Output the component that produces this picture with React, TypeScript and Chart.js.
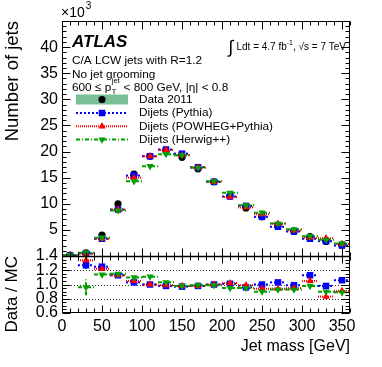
import React, { useEffect, useRef } from 'react';
import { Chart, registerables } from 'chart.js';

Chart.register(...registerables);

const FONT = "'Liberation Sans', Arial, Helvetica, sans-serif";

// Jet mass bin centres [GeV], 20 GeV wide bins
const binCenters = [10, 30, 50, 70, 90, 110, 130, 150, 170, 190, 210, 230, 250, 270, 290, 310, 330, 350];
const binHalfWidth = 10;

// Number of jets (x10^3)
const data2011 = [0.15, 0.6, 4.0, 10.0, 15.7, 19.1, 20.1, 18.9, 16.7, 14.2, 11.5, 9.2, 7.5, 5.8, 4.7, 3.7, 2.8, 2.1];
const pythia = [0.12, 0.47, 3.3, 8.9, 15.4, 19.1, 20.4, 19.6, 17.0, 14.2, 11.4, 9.6, 7.5, 5.6, 4.7, 3.3, 2.85, 2.0];
const powheg = [0.11, 0.45, 3.3, 8.9, 15.0, 19.1, 20.3, 19.3, 17.0, 14.2, 11.3, 9.3, 8.0, 6.2, 4.9, 3.5, 3.4, 2.3];
const herwig = [0.16, 0.63, 3.5, 8.7, 14.3, 17.2, 19.5, 19.3, 16.9, 14.3, 12.1, 9.7, 8.3, 6.2, 5.1, 3.8, 3.1, 2.4];

// Data / MC ratios (first bin is off scale)
const ratioPythia = [null, 1.27, 1.25, 1.13, 1.03, 1.0, 0.98, 0.97, 0.98, 1.0, 1.01, 0.96, 1.0, 1.03, 0.99, 1.13, 0.98, 1.06];
const ratioPowheg = [null, 1.34, 1.22, 1.13, 1.05, 1.0, 0.99, 0.98, 0.98, 1.0, 1.02, 0.99, 0.94, 0.94, 0.95, 1.05, 0.83, 0.91];
const ratioHerwig = [null, 0.96, 1.14, 1.15, 1.1, 1.11, 1.03, 0.98, 0.99, 0.99, 0.95, 0.95, 0.9, 0.93, 0.93, 0.98, 0.9, 0.89];
const errPythia = [0, 0.05, 0.02, 0.01, 0.01, 0.01, 0.01, 0.01, 0.01, 0.01, 0.01, 0.01, 0.015, 0.015, 0.02, 0.03, 0.03, 0.035];
const errPowheg = [0, 0.06, 0.02, 0.01, 0.01, 0.01, 0.01, 0.01, 0.01, 0.01, 0.01, 0.01, 0.015, 0.015, 0.02, 0.03, 0.03, 0.035];
const errHerwig = [0, 0.11, 0.04, 0.02, 0.015, 0.01, 0.01, 0.01, 0.01, 0.01, 0.01, 0.015, 0.02, 0.02, 0.025, 0.035, 0.04, 0.045];

// Axis tick values
const xMin = 0, xMax = 360, xStep = 50;
const yMin = 0, yMax = 45, yStep = 5;
const rMin = 0.6, rMax = 1.4, rStep = 0.2;
const ratioGridLines = [0.8, 1.0, 1.2];

const BLUE = '#0000ff';
const RED = '#ff0000';
const GREEN = '#00a000';
const BAND = 'rgb(122,190,150)';

const series = [
  { label: 'Dijets (Pythia)', color: BLUE, dash: [2, 2], style: 'rect', radius: 4.6, rot: 0, values: pythia, ratio: ratioPythia, err: errPythia },
  { label: 'Dijets (POWHEG+Pythia)', color: RED, dash: [1, 1], style: 'triangle', radius: 4.2, rot: 0, values: powheg, ratio: ratioPowheg, err: errPowheg },
  { label: 'Dijets (Herwig++)', color: GREEN, dash: [4, 2, 1, 2], style: 'triangle', radius: 4.2, rot: 180, values: herwig, ratio: ratioHerwig, err: errHerwig },
];

function points(values: (number | null)[], errs?: number[]) {
  const out: any[] = [];
  binCenters.forEach((x, i) => {
    const v = values[i];
    if (v !== null && v !== undefined) out.push({ x, y: v, e: errs ? errs[i] : 0 });
  });
  return out;
}

function drawMarker(ctx: CanvasRenderingContext2D, style: string, x: number, y: number, r: number, rot: number, color: string) {
  ctx.save();
  ctx.fillStyle = color;
  ctx.beginPath();
  if (style === 'circle') {
    ctx.arc(x, y, r, 0, Math.PI * 2);
  } else if (style === 'rect') {
    const s = r * Math.SQRT1_2;
    ctx.rect(x - s, y - s, 2 * s, 2 * s);
  } else {
    const sgn = rot === 180 ? -1 : 1;
    ctx.moveTo(x, y - sgn * r);
    ctx.lineTo(x + r * 0.866, y + sgn * r * 0.5);
    ctx.lineTo(x - r * 0.866, y + sgn * r * 0.5);
    ctx.closePath();
  }
  ctx.fill();
  ctx.restore();
}

const errorBarPlugin = {
  id: 'errorBars',
  beforeDatasetsDraw(chart: any) {
    const ctx = chart.ctx as CanvasRenderingContext2D;
    const a = chart.chartArea;
    const xs = chart.scales.x;
    const yr = chart.scales.yr;
    ctx.save();
    ctx.strokeStyle = '#333';
    ctx.lineWidth = 1;
    ctx.setLineDash([1, 2]);
    ratioGridLines.forEach((v) => {
      const py = Math.round(yr.getPixelForValue(v)) + 0.5;
      ctx.beginPath();
      ctx.moveTo(a.left, py);
      ctx.lineTo(a.right, py);
      ctx.stroke();
    });
    ctx.restore();

    chart.data.datasets.forEach((ds: any, di: number) => {
      if (!ds.barColor) return;
      const meta = chart.getDatasetMeta(di);
      const ys = chart.scales[meta.yAxisID];
      ctx.save();
      ctx.beginPath();
      ctx.rect(a.left, ys.top, a.right - a.left, ys.bottom - ys.top);
      ctx.clip();
      ctx.strokeStyle = ds.barColor;
      ctx.lineWidth = 2;
      ctx.setLineDash(ds.barDash);
      ds.data.forEach((p: any) => {
        const py = ys.getPixelForValue(p.y);
        ctx.beginPath();
        ctx.moveTo(xs.getPixelForValue(p.x - binHalfWidth), py);
        ctx.lineTo(xs.getPixelForValue(p.x + binHalfWidth), py);
        ctx.stroke();
        if (p.e) {
          const px = xs.getPixelForValue(p.x);
          ctx.beginPath();
          ctx.moveTo(px, ys.getPixelForValue(p.y - p.e));
          ctx.lineTo(px, ys.getPixelForValue(p.y + p.e));
          ctx.stroke();
        }
      });
      ctx.restore();
    });
  },
};

const framePlugin = {
  id: 'rootFrame',
  afterDraw(chart: any) {
    const ctx = chart.ctx as CanvasRenderingContext2D;
    const xs = chart.scales.x, y = chart.scales.y, yr = chart.scales.yr;
    const a = chart.chartArea;
    const L = Math.round(a.left) + 0.5, R = Math.round(a.right) - 0.5;
    const top = Math.round(y.top) + 0.5, mid = Math.round(y.bottom) + 0.5, bot = Math.round(yr.bottom) - 0.5;
    ctx.save();
    ctx.strokeStyle = '#000';
    ctx.setLineDash([]);
    ctx.lineWidth = 1;
    ctx.strokeRect(L, top, R - L, bot - top);
    ctx.lineWidth = 1.5;
    ctx.beginPath();
    ctx.moveTo(L, mid);
    ctx.lineTo(R, mid);
    ctx.stroke();
    ctx.lineWidth = 1;
    const line = (x1: number, y1: number, x2: number, y2: number) => {
      ctx.beginPath();
      ctx.moveTo(x1, y1);
      ctx.lineTo(x2, y2);
      ctx.stroke();
    };
    for (let v = xMin; v <= xMax; v += 10) {
      const major = v % xStep === 0;
      const px = Math.round(xs.getPixelForValue(v)) + 0.5;
      line(px, top, px, top + (major ? 8 : 4));
      line(px, mid, px, mid - (major ? 8 : 4));
      line(px, mid, px, mid + (major ? 7 : 4));
      line(px, bot, px, bot - (major ? 7 : 4));
    }
    for (let v = yMin; v <= yMax; v += 1) {
      const major = v % yStep === 0;
      const py = Math.round(y.getPixelForValue(v)) + 0.5;
      line(L, py, L + (major ? 8 : 4), py);
      line(R, py, R - (major ? 8 : 4), py);
    }
    for (let i = 0; i <= 16; i++) {
      const v = rMin + i * 0.05;
      const major = i % 4 === 0;
      const py = Math.round(yr.getPixelForValue(v)) + 0.5;
      line(L, py, L + (major ? 8 : 4), py);
      line(R, py, R - (major ? 8 : 4), py);
    }
    ctx.restore();

    // texts
    ctx.save();
    ctx.fillStyle = '#000';
    ctx.textBaseline = 'alphabetic';
    ctx.textAlign = 'left';
    ctx.font = `14px ${FONT}`;
    ctx.fillText('\u00d710', 61, 17);
    const w10 = ctx.measureText('\u00d710').width;
    ctx.font = `10px ${FONT}`;
    ctx.fillText('3', 61 + w10 + 1, 9);

    ctx.font = `bold italic 17px ${FONT}`;
    ctx.fillText('ATLAS', 72, 46.5);

    ctx.font = `11.8px ${FONT}`;
    ctx.fillText('C/A LCW jets with R=1.2', 72, 64);
    ctx.fillText('No jet grooming', 72, 78);
    let tx = 72;
    const t1 = '600 \u2264 p';
    ctx.fillText(t1, tx, 91);
    tx += ctx.measureText(t1).width;
    ctx.font = `7.5px ${FONT}`;
    ctx.fillText('T', tx + 0.5, 94);
    ctx.fillText('jet', tx + 0.5, 83);
    const wj = ctx.measureText('jet').width;
    tx += wj + 1;
    ctx.font = `11.8px ${FONT}`;
    ctx.fillText(' < 800 GeV, |\u03b7| < 0.8', tx, 91);

    // luminosity label (right aligned)
    const rightX = 346;
    ctx.font = `10px ${FONT}`;
    const partA = 'Ldt = 4.7 fb';
    const partB = ', \u221as = 7 TeV';
    const wA = ctx.measureText(partA).width;
    const wB = ctx.measureText(partB).width;
    ctx.font = `7px ${FONT}`;
    const wSup = ctx.measureText('-1').width;
    ctx.font = `18px ${FONT}`;
    const wInt = ctx.measureText('\u222b').width;
    let lx = rightX - (wA + wB + wSup + wInt + 3);
    ctx.fillText('\u222b', lx, 53);
    lx += wInt + 3;
    ctx.font = `10px ${FONT}`;
    ctx.fillText(partA, lx, 50);
    lx += wA;
    ctx.font = `7px ${FONT}`;
    ctx.fillText('-1', lx, 45);
    lx += wSup;
    ctx.font = `10px ${FONT}`;
    ctx.fillText(partB, lx, 50);

    // legend
    const symL = 76, symR = 128, symC = 102, textX = 139;
    const rows = [99.5, 113, 126.3, 139.5];
    ctx.fillStyle = BAND;
    ctx.fillRect(symL, rows[0] - 5, symR - symL, 10);
    drawMarker(ctx, 'circle', symC, rows[0], 3.6, 0, '#000');
    series.forEach((s, i) => {
      const ry = rows[i + 1];
      ctx.save();
      ctx.strokeStyle = s.color;
      ctx.lineWidth = 2;
      ctx.setLineDash(s.dash);
      ctx.beginPath();
      ctx.moveTo(symL, ry);
      ctx.lineTo(symR, ry);
      ctx.stroke();
      ctx.restore();
      drawMarker(ctx, s.style, symC, ry, s.radius, s.rot, s.color);
    });
    ctx.fillStyle = '#000';
    ctx.font = `11.8px ${FONT}`;
    ctx.textBaseline = 'middle';
    ctx.fillText('Data 2011', textX, rows[0]);
    series.forEach((s, i) => ctx.fillText(s.label, textX, rows[i + 1]));
    ctx.restore();
  },
};

export default function App() {
  const ref = useRef<HTMLCanvasElement>(null);
  useEffect(() => {
    Chart.defaults.font.family = FONT;
    Chart.defaults.color = '#000';
    const datasets: any[] = [
      {
        label: 'Data 2011',
        data: points(data2011),
        yAxisID: 'y',
        pointStyle: 'circle',
        pointRadius: 3.6,
        backgroundColor: '#000',
        borderColor: '#000',
        borderWidth: 0,
        order: 10,
      },
    ];
    series.forEach((s, i) => {
      datasets.push({
        label: s.label,
        data: points(s.values),
        yAxisID: 'y',
        pointStyle: s.style,
        pointRotation: s.rot,
        pointRadius: s.radius,
        backgroundColor: s.color,
        borderColor: s.color,
        borderWidth: 0,
        barColor: s.color,
        barDash: s.dash,
        order: 9 - i,
      });
    });
    series.forEach((s, i) => {
      datasets.push({
        label: s.label + ' ratio',
        data: points(s.ratio, s.err),
        yAxisID: 'yr',
        pointStyle: s.style,
        pointRotation: s.rot,
        pointRadius: s.radius,
        backgroundColor: s.color,
        borderColor: s.color,
        borderWidth: 0,
        barColor: s.color,
        barDash: s.dash,
        order: 5 - i,
      });
    });

    const chart = new Chart(ref.current as HTMLCanvasElement, {
      type: 'scatter',
      data: { datasets },
      plugins: [errorBarPlugin, framePlugin],
      options: {
        animation: false,
        responsive: true,
        maintainAspectRatio: false,
        layout: { padding: { top: 21, right: 32, left: 0, bottom: 0 } },
        plugins: { legend: { display: false }, tooltip: { enabled: false } },
        events: [],
        scales: {
          x: {
            type: 'linear',
            position: 'bottom',
            min: xMin,
            max: xMax,
            grid: { display: false, drawTicks: false },
            border: { display: false },
            ticks: { stepSize: xStep, includeBounds: false, maxRotation: 0, autoSkip: false, padding: 4, font: { size: 16 }, color: '#000' },
            title: { display: true, text: 'Jet mass [GeV]', align: 'end', font: { size: 16 }, color: '#000', padding: { top: 0, bottom: 11 } },
            afterFit: (s: any) => { s.height = 54; },
          },
          yr: {
            type: 'linear',
            position: 'left',
            stack: 'panels',
            stackWeight: 57,
            min: rMin,
            max: rMax,
            grid: { display: false, drawTicks: false },
            border: { display: false },
            ticks: {
              stepSize: rStep,
              autoSkip: false,
              padding: 4,
              font: { size: 16 },
              color: '#000',
              callback: (v: any) => Number(v).toFixed(1),
            },
            title: { display: true, text: 'Data / MC', align: 'end', font: { size: 17 }, color: '#000', padding: { top: 2, bottom: 0 } },
            afterFit: (s: any) => { s.width = 62; },
          },
          y: {
            type: 'linear',
            position: 'left',
            stack: 'panels',
            stackWeight: 235,
            min: yMin,
            max: yMax,
            grid: { display: false, drawTicks: false },
            border: { display: false },
            ticks: {
              stepSize: yStep,
              includeBounds: false,
              autoSkip: false,
              padding: 4,
              font: { size: 16 },
              color: '#000',
              callback: (v: any) => (v === yMin || v === yMax ? '' : String(v)),
            },
            title: { display: true, text: 'Number of jets', align: 'end', font: { size: 18.5 }, color: '#000', padding: { top: 2, bottom: 0 } },
            afterFit: (s: any) => { s.width = 62; },
          },
        },
      } as any,
    });
    return () => chart.destroy();
  }, []);
  return (
    <div style={{ position: 'fixed', left: 0, top: 0, width: 382, height: 367, background: '#fff' }}>
      <canvas ref={ref} />
    </div>
  );
}
